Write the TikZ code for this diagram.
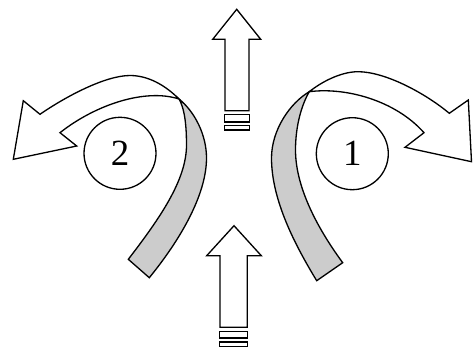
\documentclass[tikz,border=0pt]{standalone}
\usepackage{fontspec}
\setmainfont{Liberation Serif}

\begin{document}
\begin{tikzpicture}[
        x=0.02cm, y=-0.02cm,
        line width=0.75pt,
        band/.style={draw, fill=gray!40},
        ribbon/.style={draw, fill=white},
        shaft/.style={draw, fill=white},
        num/.style={draw, circle, minimum size=1.44cm, inner sep=0pt, font=\fontsize{21}{24}\selectfont}
      ]
        \useasboundingbox (0,0) rectangle (473,349);

        % left twisted arrow
        \path[band] (179,99) .. controls (195,112) and (206.5,135) .. (206.5,158)
            .. controls (206.5,195) and (180,240) .. (149.3,277.7) -- (128.3,259.3)
            .. controls (160,218) and (186.5,180) .. (186.5,145)
            .. controls (186.5,118) and (183,106) .. (179,99) -- cycle;
        \path[ribbon] (179,99) .. controls (165,85) and (148,75.5) .. (130,75.5)
            .. controls (105,75.5) and (65,97) .. (40,114.3)
            -- (23.3,100.7) -- (13.3,159.3) -- (76.7,146) -- (60,132.7)
            .. controls (95,105) and (145,88) .. (179,99) -- cycle;

        % right twisted arrow
        \path[band] (309.3,91.7) .. controls (290,103) and (271.5,130) .. (271.5,158)
            .. controls (271.5,200) and (295,245) .. (316.7,280.7) -- (342.7,262.7)
            .. controls (315,225) and (295.5,185) .. (295.5,150)
            .. controls (295.5,125) and (302,104) .. (309.3,91.7) -- cycle;
        \path[ribbon] (309.3,91.7) .. controls (320,83) and (340,71.7) .. (358,71.7)
            .. controls (385,71.7) and (425,93) .. (449.3,113.3)
            -- (468.3,100) -- (471.5,161.7) -- (405,147.3) -- (424,132.7)
            .. controls (395,100) and (345,87) .. (309.3,91.7) -- cycle;

        \node[num] (two) at (120,153.3) {2};
        \node[num] (one) at (352.3,153.7) {1};

        % straight arrows
        \draw[shaft] (236.7,9.3) -- (260.7,39.3) -- (249,39.3) -- (249,110.7) -- (225,110.7) -- (225,39.3) -- (212.7,39.3) -- cycle;
        \draw[shaft] (224.3,114.7) rectangle (249.3,122);
        \draw[shaft] (224.3,125.3) rectangle (249.3,130);

        \draw[shaft] (234,225.7) -- (261.3,255.7) -- (247.3,255.7) -- (247.3,327.3) -- (220,327.3) -- (220,255.7) -- (206.7,255.7) -- cycle;
        \draw[shaft] (219.3,331.3) rectangle (247.7,338);
        \draw[shaft] (219.3,342) rectangle (247.7,346.7);
    \end{tikzpicture}
\end{document}
